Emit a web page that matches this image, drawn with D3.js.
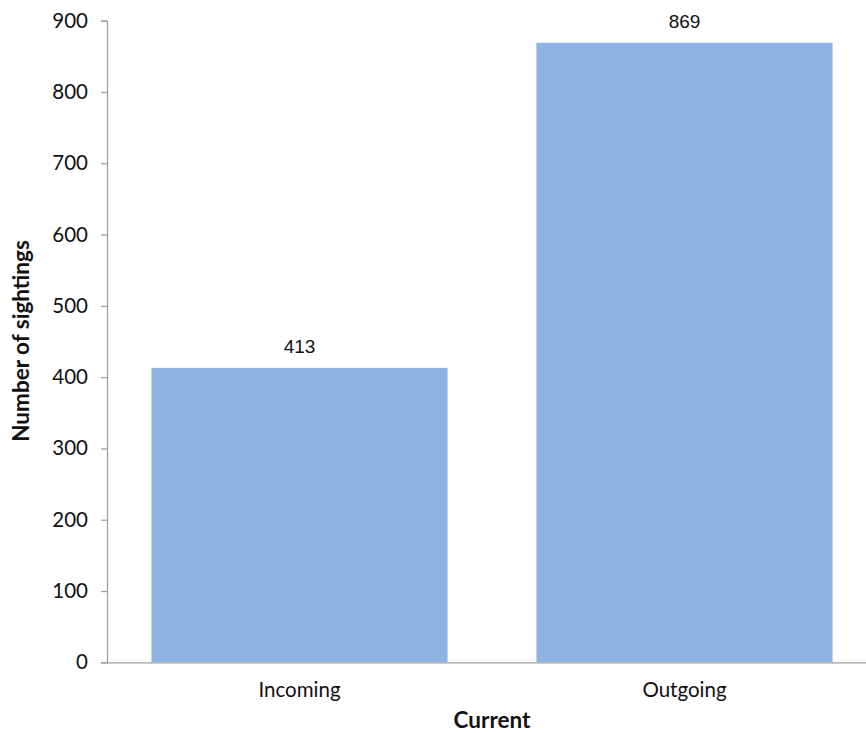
<!DOCTYPE html>
<html><head><meta charset="utf-8">
<script src="https://cdn.jsdelivr.net/npm/d3@7"></script>
<style>body{margin:0;background:#fff}</style>
</head><body>
<svg id="c" width="866" height="733"></svg>
<script>
const categories = ["Incoming", "Outgoing"];
const values = [413, 869];
const yTicks = [0, 100, 200, 300, 400, 500, 600, 700, 800, 900];
const xTitle = "Current";
const yTitle = "Number of sightings";

(function(){
const svg = d3.select("#c");
const mLeft = 107, mRight = 877, mTop = 20.7, mBottom = 662.3;
const x = d3.scaleBand().domain(categories).range([mLeft, mRight]).paddingInner(0.2308).paddingOuter(0.1154);
const y = d3.scaleLinear().domain([0, 900]).range([mBottom, mTop]);
const axisColor = "#a0a0a0";
const font = "Lato, 'Open Sans', sans-serif";

svg.selectAll("rect.bar").data(values).join("rect").attr("class","bar")
  .attr("x",(d,i)=>x(categories[i])).attr("width",x.bandwidth())
  .attr("y",d=>y(d)).attr("height",d=>y(0)-y(d)).attr("fill","#8eb4e3");

const ya = svg.append("g").attr("transform",`translate(${mLeft},0)`)
  .call(d3.axisLeft(y).tickValues(yTicks).tickSize(6).tickPadding(13));
ya.select(".domain").attr("stroke",axisColor).attr("stroke-width",1.3);
ya.selectAll(".tick line").attr("stroke",axisColor).attr("stroke-width",1.3);
ya.selectAll(".tick text").attr("font-family",font).attr("font-size",20.5).attr("fill","#111");

const xa = svg.append("g").attr("transform",`translate(0,${mBottom})`)
  .call(d3.axisBottom(x).tickSize(0).tickPadding(20));
xa.select(".domain").attr("stroke",axisColor).attr("stroke-width",1.3);
xa.selectAll(".tick text").attr("font-family",font).attr("font-size",20.5).attr("fill","#111");

svg.selectAll("text.val").data(values).join("text").attr("class","val")
  .attr("x",(d,i)=>x(categories[i])+x.bandwidth()/2).attr("y",d=>y(d)-15)
  .attr("text-anchor","middle").attr("font-family","Liberation Sans, Arial, sans-serif")
  .attr("font-size",19).attr("fill","#111").text(d=>d);

svg.append("text").attr("x",(mLeft+mRight)/2).attr("y",728).attr("text-anchor","middle")
  .attr("font-family",font).attr("font-weight","bold").attr("font-size",22.5).attr("fill","#111").text(xTitle);
svg.append("text").attr("transform",`translate(29,341) rotate(-90)`).attr("text-anchor","middle")
  .attr("font-family",font).attr("font-weight","bold").attr("font-size",22.5).attr("fill","#111").text(yTitle);
})();
</script>
</body></html>
